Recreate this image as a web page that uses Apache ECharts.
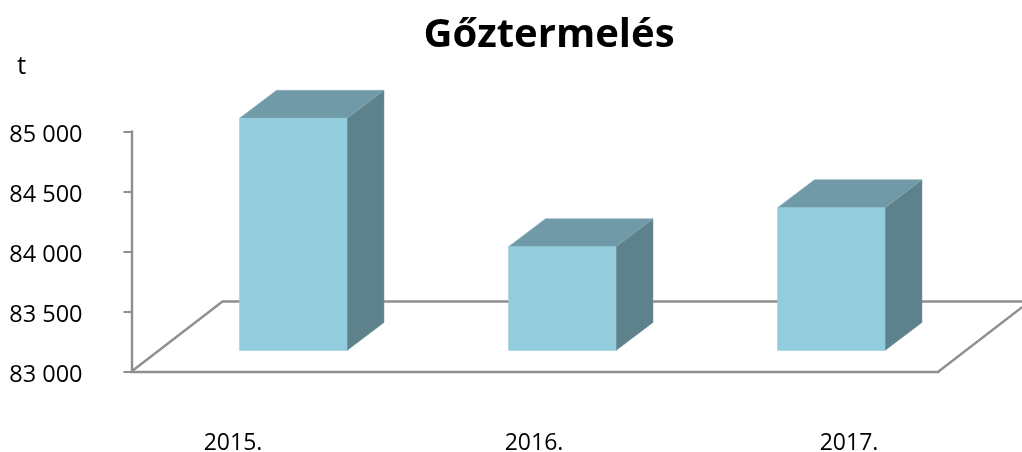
<!DOCTYPE html>
<html>
<head>
<meta charset="utf-8">
<style>
  html, body { margin: 0; padding: 0; background: #fff; }
  #chart { width: 1022px; height: 452px; }
</style>
<script src="https://cdn.jsdelivr.net/npm/echarts@6/dist/echarts.min.js"></script>
</head>
<body>
<div id="chart"></div>
<script>
const categories = ['2015.', '2016.', '2017.'];
const steamValues = [84935, 83865, 84190];
const yMin = 83000;
const yMax = 85000;
const yStep = 500;

const fontFamily = '"Open Sans", sans-serif';
const axisColor = '#8f8f8f';

// labels in the reference do not sit on the band centres
const labelShift = [-33, -1, 45];

const chart = echarts.init(document.getElementById('chart'));

const renderBar = (params, api) => {
  const base = api.coord([api.value(0), yMin]);
  const top = api.coord([api.value(0), api.value(1)]);
  // bars stand 21px up the floor, so the whole bar is lifted
  const lift = 21;
  const x0 = base[0] - 26.5;
  const x1 = base[0] + 81;
  const yBottom = base[1] - lift;
  const yTop = top[1] - lift;
  const dx = 37;
  const dy = 28;
  return {
    type: 'group',
    children: [
      {
        type: 'polygon',
        shape: { points: [[x1, yTop], [x1 + dx, yTop - dy], [x1 + dx, yBottom - dy], [x1, yBottom]] },
        style: { fill: '#5e828c', stroke: '#6d929c', lineWidth: 0.5 },
      },
      {
        type: 'polygon',
        shape: { points: [[x0, yTop], [x0 + dx, yTop - dy], [x1 + dx, yTop - dy], [x1, yTop]] },
        style: { fill: '#719aa8', stroke: '#80a8b5', lineWidth: 0.5 },
      },
      {
        type: 'rect',
        shape: { x: x0, y: yTop, width: x1 - x0, height: yBottom - yTop },
        style: { fill: '#93cddd', stroke: '#93cddd', lineWidth: 0.5 },
      },
    ],
  };
};

// floor of the 3d plot, behind the bars
const renderFloor = (params, api) => {
  const rect = params.coordSys;
  const xL = rect.x;
  const xR = rect.x + rect.width;
  const y = api.coord([0, yMin])[1];
  const dx = 91;
  const dy = 70;
  return {
    type: 'polyline',
    shape: { points: [[xL, y], [xL + dx, y - dy], [xR + dx, y - dy], [xR, y]] },
    style: { fill: null, stroke: axisColor, lineWidth: 2.4 },
  };
};

chart.setOption({
  animation: false,
  backgroundColor: '#fff',
  title: [
    {
      text: 'Gőztermelés',
      left: 544,
      top: 11,
      textAlign: 'center',
      textStyle: { fontFamily, fontSize: 40, fontWeight: 'bold', color: '#000' },
    },
    {
      text: 't',
      left: 12,
      top: 49,
      textStyle: { fontFamily, fontSize: 26, fontWeight: 'normal', color: '#000' },
    },
  ],
  grid: { left: 131.5, right: 83.5, top: 131.5, bottom: 80.5, outerBoundsMode: 'none' },
  xAxis: {
    type: 'category',
    data: categories.map((name, i) => ({
      value: name,
      textStyle: {
        padding: [0, labelShift[i] < 0 ? -2 * labelShift[i] : 0, 0, labelShift[i] > 0 ? 2 * labelShift[i] : 0],
      },
    })),
    axisLine: { lineStyle: { color: axisColor, width: 2.4 } },
    axisTick: { show: false },
    axisLabel: { color: '#000', fontFamily, fontSize: 23, margin: 60 },
  },
  yAxis: {
    type: 'value',
    min: yMin,
    max: yMax,
    interval: yStep,
    axisLine: { show: true, lineStyle: { color: axisColor, width: 2.4 } },
    axisTick: { show: true, length: 8, lineStyle: { color: axisColor, width: 2 } },
    splitLine: { show: false },
    axisLabel: {
      color: '#000',
      fontFamily,
      fontSize: 23.5,
      margin: 49,
      verticalAlign: 'top',
      lineHeight: 7,
      formatter: (v) => String(v).replace(/(\d{2})(\d{3})/, '$1 $2'),
    },
  },
  series: [
    {
      type: 'custom',
      silent: true,
      clip: false,
      z: 1,
      renderItem: renderFloor,
      data: [[0, yMin]],
    },
    {
      type: 'custom',
      silent: true,
      clip: false,
      z: 2,
      renderItem: renderBar,
      encode: { x: 0, y: 1 },
      data: categories.map((name, i) => [i, steamValues[i]]),
    },
  ],
});

window.addEventListener('resize', () => chart && chart.resize());
</script>
</body>
</html>
